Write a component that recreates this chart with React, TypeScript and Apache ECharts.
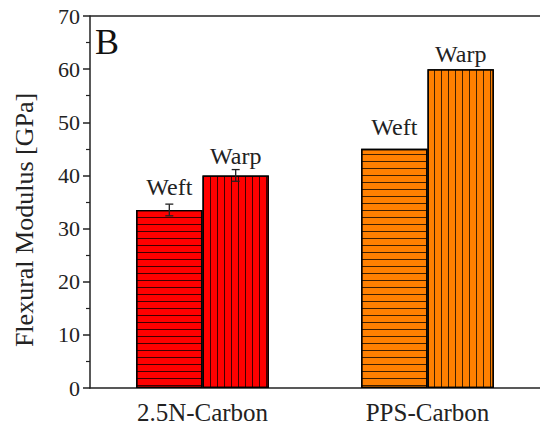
import React, { useEffect, useRef } from "react";
import * as echarts from "echarts";

const categories = ["2.5N-Carbon", "PPS-Carbon"];
const weftValues = [33.5, 45];
const warpValues = [40, 60];
const weftErr = [1.1, 0];
const warpErr = [1.1, 0];
const barColors = ["#ff0000", "#ff8000"];
const weftLabelGap = [11, 10];
const warpLabelGap = [7, 3];
const yTicks = { min: 0, max: 70, interval: 10 };

const FONT = "serif";

function buildOption() {
  const barWidthFrac = (1 - 0.41) / 2;
  const errData: any[] = [];
  categories.forEach((_, i) => {
    if (weftErr[i] > 0)
      errData.push([i, weftValues[i] - weftErr[i], weftValues[i] + weftErr[i], -barWidthFrac / 2]);
    if (warpErr[i] > 0)
      errData.push([i, warpValues[i] - warpErr[i], warpValues[i] + warpErr[i], barWidthFrac / 2]);
  });
  const mkBar = (name: string, vals: number[], gaps: number[], horizontal: boolean) => ({
    name,
    type: "bar",
    barGap: "0%",
    barCategoryGap: "41%",
    data: vals.map((v, i) => ({
      value: v,
      itemStyle: {
        color: barColors[i],
        borderColor: "#000",
        borderWidth: 1.3,
        decal: horizontal
          ? { symbol: "rect", symbolSize: 1, color: "rgba(0,0,0,0.75)", dashArrayX: [1, 0], dashArrayY: [1, 6], rotation: 0 }
          : { symbol: "rect", symbolSize: 1, color: "rgba(0,0,0,0.75)", dashArrayX: [1, 6], dashArrayY: [1, 0], rotation: 0 },
      },
      label: { distance: gaps[i] },
    })),
    label: {
      show: true,
      position: "top",
      formatter: name,
      fontFamily: FONT,
      fontSize: 24,
      color: "#222",
    },
  });
  return {
    animation: false,
    textStyle: { fontFamily: FONT },
    grid: { left: 90, top: 16, width: 458, height: 372 },
    xAxis: {
      type: "category",
      data: categories,
      axisLine: { lineStyle: { color: "#222", width: 1.5 } },
      axisTick: { alignWithLabel: true, length: 7, lineStyle: { color: "#222", width: 1.5 } },
      axisLabel: { fontFamily: FONT, fontSize: 25, color: "#222", margin: 12 },
    },
    yAxis: {
      type: "value",
      min: yTicks.min,
      max: yTicks.max,
      interval: yTicks.interval,
      splitLine: { show: false },
      axisLine: { show: true, lineStyle: { color: "#222", width: 1.5 } },
      axisTick: { show: true, length: 7, lineStyle: { color: "#222", width: 1.5 } },
      minorTick: { show: true, splitNumber: 2, length: 4, lineStyle: { color: "#222", width: 1.2 } },
      axisLabel: { fontFamily: FONT, fontSize: 22, color: "#222", margin: 10 },
    },
    graphic: [
      { type: "line", shape: { x1: 90, y1: 16, x2: 540, y2: 16 }, style: { stroke: "#222", lineWidth: 1.5 } },
      { type: "text", x: 95, y: 24, style: { text: "B", fontFamily: FONT, fontSize: 36, fill: "#111" } },
      {
        type: "text",
        x: 24,
        y: 220,
        rotation: Math.PI / 2,
        style: {
          text: "Flexural Modulus [GPa]",
          fontFamily: FONT,
          fontSize: 26,
          fill: "#222",
          align: "center",
          verticalAlign: "middle",
        },
      },
    ],
    series: [
      mkBar("Weft", weftValues, weftLabelGap, true),
      mkBar("Warp", warpValues, warpLabelGap, false),
      {
        type: "custom",
        z: 10,
        data: errData,
        renderItem: (params: any, api: any) => {
          const cat = api.value(0);
          const lo = api.coord([cat, api.value(1)]);
          const hi = api.coord([cat, api.value(2)]);
          const band = api.size([1, 0])[0];
          const x = lo[0] + api.value(3) * band;
          const st = { stroke: "#222", lineWidth: 1.3 };
          return {
            type: "group",
            children: [
              { type: "line", shape: { x1: x, y1: lo[1], x2: x, y2: hi[1] }, style: st },
              { type: "line", shape: { x1: x - 4, y1: lo[1], x2: x + 4, y2: lo[1] }, style: st },
              { type: "line", shape: { x1: x - 4, y1: hi[1], x2: x + 4, y2: hi[1] }, style: st },
            ],
          };
        },
      },
    ],
  };
}

export default function App() {
  const ref = useRef<HTMLDivElement>(null);
  useEffect(() => {
    if (!ref.current) return;
    const chart = echarts.init(ref.current, null, { renderer: "svg" });
    chart.setOption(buildOption() as any);
    return () => chart.dispose();
  }, []);
  return <div ref={ref} style={{ position: "absolute", left: 0, top: 0, width: 540, height: 430 }} />;
}
